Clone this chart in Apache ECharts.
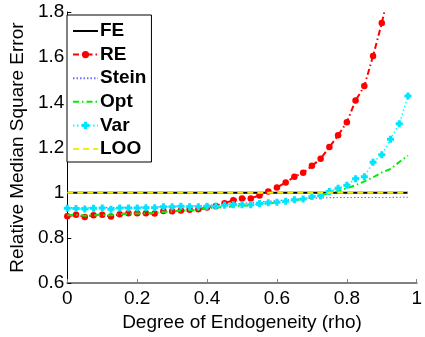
<!DOCTYPE html>
<html>
<head>
<meta charset="utf-8">
<script src="https://cdn.jsdelivr.net/npm/echarts@6/dist/echarts.min.js"></script>
<style>html,body{margin:0;padding:0;background:#fff}#c{width:425px;height:337px}</style>
</head>
<body>
<div id="c"></div>
<script>
var rho = [0, 0.025, 0.05, 0.075, 0.1, 0.125, 0.15, 0.175, 0.2, 0.225,
           0.25, 0.275, 0.3, 0.325, 0.35, 0.375, 0.4, 0.425, 0.45, 0.475,
           0.5, 0.525, 0.55, 0.575, 0.6, 0.625, 0.65, 0.675, 0.7, 0.725,
           0.75, 0.775, 0.8, 0.825, 0.85, 0.875, 0.9, 0.925, 0.95, 0.975];
var feValues = [1,1,1,1,1,1,1,1,1,1, 1,1,1,1,1,1,1,1,1,1, 1,1,1,1,1,1,1,1,1,1, 1,1,1,1,1,1,1,1,1,1];
var reValues = [0.896, 0.903, 0.893, 0.900, 0.903, 0.895, 0.905, 0.909, 0.909, 0.909,
                0.908, 0.919, 0.918, 0.921, 0.925, 0.927, 0.935, 0.941, 0.954, 0.967,
                0.975, 0.975, 0.988, 1.005, 1.023, 1.045, 1.071, 1.088, 1.119, 1.150,
                1.202, 1.254, 1.312, 1.408, 1.472, 1.605, 1.751, 1.920, 2.100, 2.300];
var steinValues = [0.933, 0.933, 0.933, 0.933, 0.934, 0.934, 0.935, 0.935, 0.936, 0.936,
                   0.937, 0.938, 0.939, 0.940, 0.941, 0.942, 0.944, 0.946, 0.948, 0.950,
                   0.953, 0.956, 0.959, 0.962, 0.965, 0.968, 0.971, 0.973, 0.975, 0.977,
                   0.978, 0.979, 0.979, 0.979, 0.979, 0.979, 0.979, 0.979, 0.980, 0.980];
var optValues = [0.900, 0.902, 0.898, 0.900, 0.902, 0.900, 0.905, 0.907, 0.908, 0.909,
                 0.910, 0.915, 0.917, 0.920, 0.922, 0.925, 0.930, 0.935, 0.937, 0.940,
                 0.942, 0.944, 0.948, 0.952, 0.958, 0.962, 0.967, 0.972, 0.978, 0.990,
                 0.998, 1.008, 1.020, 1.033, 1.050, 1.068, 1.090, 1.105, 1.136, 1.165];
var varValues = [0.931, 0.930, 0.928, 0.931, 0.932, 0.927, 0.932, 0.932, 0.932, 0.934,
                 0.934, 0.938, 0.938, 0.940, 0.938, 0.938, 0.940, 0.940, 0.945, 0.947,
                 0.947, 0.947, 0.952, 0.956, 0.958, 0.962, 0.969, 0.972, 0.983, 0.986,
                 1.005, 1.020, 1.033, 1.062, 1.071, 1.135, 1.168, 1.237, 1.305, 1.428];
var looValues = [1,1,1,1,1,1,1,1,1,1, 1,1,1,1,1,1,1,1,1,1, 1,1,1,1,1,1,1,1,1,1, 1,1,1,1,1,1,1,1,1,1];
var seriesNames = ['FE', 'RE', 'Stein', 'Opt', 'Var', 'LOO'];
var namesWithMarker = ['RE', 'Var'];
var xTicks = [0, 0.2, 0.4, 0.6, 0.8, 1];
var yTicks = [0.6, 0.8, 1, 1.2, 1.4, 1.6, 1.8];

function pairs(vals) { return rho.map(function (x, i) { return [x, vals[i]]; }); }

var FONT = 'Liberation Sans, Arial, Helvetica, sans-serif';
var plusPath = 'path://M2,0H5V2H7V5H5V7H2V5H0V2H2Z';

var legendData = seriesNames.map(function (n) {
  if (namesWithMarker.indexOf(n) >= 0) return {name: n};
  return {name: n, itemStyle: {color: 'rgba(0,0,0,0)', opacity: 0, borderWidth: 0}};
});

var chart = echarts.init(document.getElementById('c'), null, {renderer: 'canvas'});
chart.setOption({
  animation: false,
  backgroundColor: '#fff',
  grid: {left: 63.5, right: 4, top: 12, bottom: 50, containLabel: false},
  legend: {
    orient: 'vertical', left: 67, top: 15,
    data: legendData,
    backgroundColor: '#fff', borderColor: '#000', borderWidth: 1,
    padding: [6, 5, 3, 5],
    itemWidth: 25, itemHeight: 9, itemGap: 3.6,
    textStyle: {fontFamily: FONT, fontSize: 19, fontWeight: 'bold', color: '#000', lineHeight: 20,
                padding: [0, 0, 0, -3]}
  },
  xAxis: {
    type: 'value', min: xTicks[0], max: xTicks[xTicks.length - 1], interval: 0.2,
    name: 'Degree of Endogeneity (rho)', nameLocation: 'middle', nameGap: 22,
    nameTextStyle: {fontFamily: FONT, fontSize: 19, color: '#000'},
    axisLine: {show: true, onZero: false, lineStyle: {color: '#808080', width: 2}},
    axisTick: {show: true, inside: true, length: 4, lineStyle: {color: '#808080', width: 1}},
    axisLabel: {fontFamily: FONT, fontSize: 19, color: '#000', margin: 6},
    splitLine: {show: false}
  },
  yAxis: {
    type: 'value', min: yTicks[0], max: yTicks[yTicks.length - 1], interval: 0.2,
    name: 'Relative Median Square Error', nameLocation: 'middle', nameGap: 38,
    nameTextStyle: {fontFamily: FONT, fontSize: 19, color: '#000'},
    axisLine: {show: true, lineStyle: {color: '#000', width: 1}},
    axisTick: {show: true, inside: true, length: 4, lineStyle: {color: '#000', width: 1}},
    axisLabel: {fontFamily: FONT, fontSize: 19, color: '#000', margin: 3,
      formatter: function (v) { return String(Math.round(v * 10) / 10); }},
    splitLine: {show: false}
  },
  series: [
    {name: 'FE', type: 'line', data: pairs(feValues), symbol: 'none', z: 2,
     lineStyle: {color: '#000', width: 2, type: 'solid'}, itemStyle: {color: '#000'}},
    {name: 'RE', type: 'line', data: pairs(reValues), symbol: 'circle', symbolSize: 6.5, z: 4,
     lineStyle: {color: '#ff0000', width: 2, type: [6, 3, 1.5, 3]}, itemStyle: {color: '#ff0000'}},
    {name: 'Stein', type: 'line', data: pairs(steinValues), symbol: 'none', z: 3,
     lineStyle: {color: '#6f6fff', width: 1.2, type: [1.5, 2]}, itemStyle: {color: '#6f6fff'}},
    {name: 'Opt', type: 'line', data: pairs(optValues), symbol: 'none', z: 5,
     lineStyle: {color: '#00ee00', width: 2, type: [6, 3, 1.5, 3]}, itemStyle: {color: '#00ee00'}},
    {name: 'Var', type: 'line', data: pairs(varValues), symbol: plusPath, symbolSize: 7, z: 5,
     lineStyle: {color: '#00ffff', width: 1.5, type: [1.5, 2.5]}, itemStyle: {color: '#00e5ff'}},
    {name: 'LOO', type: 'line', data: pairs(looValues), symbol: 'none', z: 6,
     lineStyle: {color: '#f2f200', width: 2, type: [6, 4]}, itemStyle: {color: '#f2f200'}}
  ]
});
</script>
</body>
</html>
